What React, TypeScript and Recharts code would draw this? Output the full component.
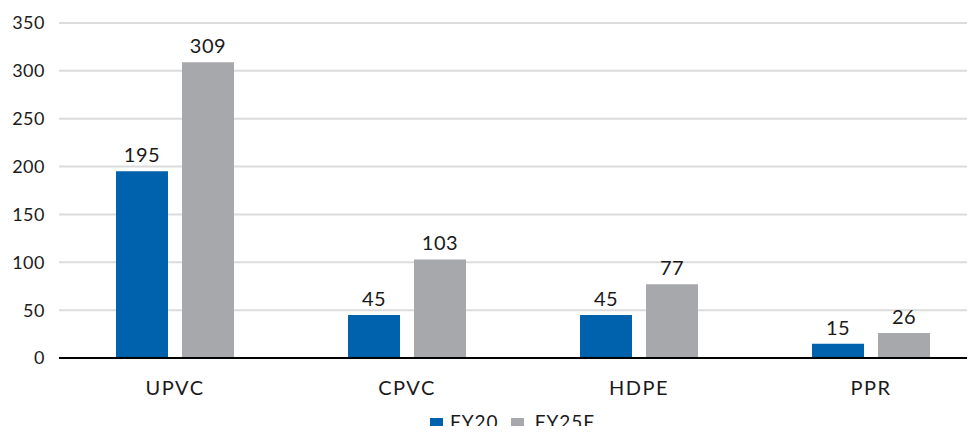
import React from "react";
import { BarChart, Bar, XAxis, YAxis, CartesianGrid, LabelList } from "recharts";

const categories = ["UPVC", "CPVC", "HDPE", "PPR"];
const fy20 = [195, 45, 45, 15];
const fy25f = [309, 103, 77, 26];
const yTicks = [0, 50, 100, 150, 200, 250, 300, 350];
const seriesNames = ["FY20", "FY25F"];

const data = categories.map((c, i) => ({ name: c, fy20: fy20[i], fy25f: fy25f[i] }));

const FONT = "Lato, 'Open Sans', sans-serif";
const BLUE = "#0061AD";
const GRAY = "#A7A8AB";

const LegendContent = () => (
  <div
    style={{
      position: "absolute",
      top: 412,
      left: 430,
      display: "flex",
      fontFamily: FONT,
      fontSize: 19,
      letterSpacing: 1,
      color: "#1a1a1a",
      lineHeight: "20px",
    }}
  >
    <span style={{ display: "inline-flex", alignItems: "flex-start" }}>
      <span style={{ width: 13, height: 13, background: BLUE, marginTop: 6, marginRight: 7 }} />
      {seriesNames[0]}
    </span>
    <span style={{ display: "inline-flex", alignItems: "flex-start", marginLeft: 12 }}>
      <span style={{ width: 13, height: 13, background: GRAY, marginTop: 6, marginRight: 11 }} />
      {seriesNames[1]}
    </span>
  </div>
);

export default function App() {
  return (
    <div style={{ margin: -8, width: 975, height: 434, overflow: "hidden", background: "#fff", position: "relative" }}>
      <BarChart
        width={990}
        height={434}
        data={data}
        margin={{ top: 23, right: 3, left: 0, bottom: 36 }}
        barSize={52}
        barGap={14}
      >
        <CartesianGrid horizontal vertical={false} stroke="#DCDCDC" strokeWidth={2} />
        <XAxis
          dataKey="name"
          height={40}
          tickLine={false}
          axisLine={{ stroke: "#000", strokeWidth: 2 }}
          tick={{ fill: "#1a1a1a", fontSize: 20, fontFamily: FONT, letterSpacing: 1.5 }}
          tickMargin={17}
        />
        <YAxis
          width={59}
          domain={[0, 350]}
          ticks={yTicks}
          axisLine={false}
          tickLine={false}
          tickSize={0}
          tickMargin={14}
          tick={{ fill: "#1a1a1a", fontSize: 18, fontFamily: FONT, letterSpacing: 0.5 }}
        />
        <Bar dataKey="fy20" name={seriesNames[0]} fill={BLUE} isAnimationActive={false}>
          <LabelList dataKey="fy20" position="top" offset={9} fill="#1a1a1a" fontSize={20} fontFamily={FONT} letterSpacing={0.5} />
        </Bar>
        <Bar dataKey="fy25f" name={seriesNames[1]} fill={GRAY} isAnimationActive={false}>
          <LabelList dataKey="fy25f" position="top" offset={9} fill="#1a1a1a" fontSize={20} fontFamily={FONT} letterSpacing={0.5} />
        </Bar>
      </BarChart>
      <LegendContent />
    </div>
  );
}
